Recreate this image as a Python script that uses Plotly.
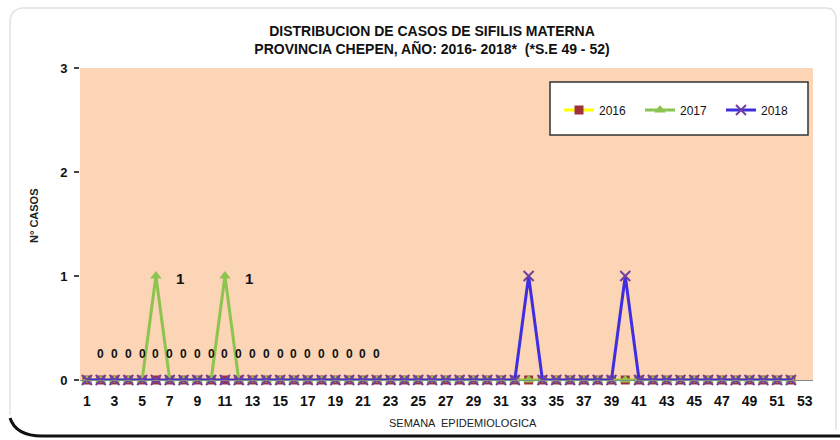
import plotly.graph_objects as go

# ---------------- data ----------------
weeks = list(range(1, 53))
casos_2016 = [0, 0, 0, 0, 0, 0, 0, 0, 0, 0, 0, 0, 0, 0, 0, 0, 0, 0, 0, 0, 0, 0, 0, 0, 0, 0,
              0, 0, 0, 0, 0, 0, 0, 0, 0, 0, 0, 0, 0, 0, 0, 0, 0, 0, 0, 0, 0, 0, 0, 0, 0, 0]
casos_2017 = [0, 0, 0, 0, 0, 1, 0, 0, 0, 0, 1, 0, 0, 0, 0, 0, 0, 0, 0, 0, 0, 0, 0, 0, 0, 0,
              0, 0, 0, 0, 0, 0, 0, 0, 0, 0, 0, 0, 0, 0, 0, 0, 0, 0, 0, 0, 0, 0, 0, 0, 0, 0]
casos_2018 = [0, 0, 0, 0, 0, 0, 0, 0, 0, 0, 0, 0, 0, 0, 0, 0, 0, 0, 0, 0, 0, 0, 0, 0, 0, 0,
              0, 0, 0, 0, 0, 0, 1, 0, 0, 0, 0, 0, 0, 1, 0, 0, 0, 0, 0, 0, 0, 0, 0, 0, 0, 0]
series_names = ["2016", "2017", "2018"]
label_weeks_2016 = [2, 3, 4, 5, 6, 7, 8, 9, 10, 11, 12, 13, 14, 15, 16, 17, 18, 19, 20, 21, 22]
x_tick_vals = list(range(1, 54, 2))
y_tick_vals = [0, 1, 2, 3]

title_text = ("DISTRIBUCION DE CASOS DE SIFILIS MATERNA<br>"
              "PROVINCIA CHEPEN, AÑO: 2016- 2018*  (*S.E 49 - 52)")

# ---------------- layout helpers (pixel -> paper) ----------------
L, R, T, B = 80, 813, 68, 380
def px(x):
    return (x - L) / (R - L)
def py(y):
    return (B - y) / (B - T)

FONT = "Liberation Sans Narrow, Liberation Sans, Arial, sans-serif"

fig = go.Figure()

fig.add_trace(go.Scatter(
    x=weeks, y=casos_2016, name=series_names[0], mode="lines+markers",
    line=dict(color="#FFFF00", width=3),
    marker=dict(symbol="square", size=9, color="#A0303A"),
    cliponaxis=False))
fig.add_trace(go.Scatter(
    x=weeks, y=casos_2017, name=series_names[1], mode="lines+markers",
    line=dict(color="#8CC44F", width=3),
    marker=dict(symbol="triangle-up", size=10, color="#8CC44F"),
    cliponaxis=False))
fig.add_trace(go.Scatter(
    x=weeks, y=casos_2018, name=series_names[2], mode="lines+markers",
    line=dict(color="#3F2FE0", width=3),
    marker=dict(symbol="x-thin", size=10, color="#5A4AB0", line=dict(width=2, color="#7040A0")),
    cliponaxis=False))

annotations = []
# "0" labels above 2016 points
for w in label_weeks_2016:
    annotations.append(dict(x=w, y=casos_2016[w - 1], text=str(casos_2016[w - 1]),
                            showarrow=False, yshift=26,
                            font=dict(family=FONT, size=12, color="#111111", weight="bold")))
# "1" labels at 2017 peaks
for w, v in zip(weeks, casos_2017):
    if v > 0:
        annotations.append(dict(x=w, y=v, text=str(v), showarrow=False, xshift=24, yshift=-2,
                                font=dict(family=FONT, size=15, color="#111111", weight="bold")))
# axis titles
annotations.append(dict(xref="paper", yref="paper", x=px(463), y=py(423), xanchor="center", yanchor="middle",
                        text="SEMANA  EPIDEMIOLOGICA",
                        showarrow=False, font=dict(family=FONT, size=11, color="#222222")))
annotations.append(dict(xref="paper", yref="paper", x=px(34), y=py(215), xanchor="center", yanchor="middle",
                        text="N° CASOS", textangle=-90,
                        showarrow=False, font=dict(family=FONT, size=11, color="#222222", weight="bold")))

shapes = [
    # outer light frame
    dict(type="path", xref="paper", yref="paper",
         path=f"M {px(22)},{py(8)} L {px(826)},{py(8)} Q {px(836)},{py(8)} {px(836)},{py(20)} L {px(836)},{py(430)} "
              f"M {px(22)},{py(8)} Q {px(10)},{py(10)} {px(10)},{py(22)} L {px(10)},{py(415)}",
         line=dict(color="#E2E2E2", width=1.5)),
    # bottom heavy border
    dict(type="path", xref="paper", yref="paper",
         path=f"M {px(10)},{py(418)} Q {px(16)},{py(436)} {px(42)},{py(436)} L {px(842)},{py(436)}",
         line=dict(color="#111111", width=3)),
    # legend box
    dict(type="rect", xref="paper", yref="paper", layer="above",
         x0=px(550), x1=px(808), y0=py(82), y1=py(135),
         fillcolor="white", line=dict(color="#333333", width=1.5)),
]

fig.update_layout(
    width=840, height=440,
    margin=dict(l=L, r=840 - R, t=T, b=440 - B, autoexpand=False),
    paper_bgcolor="white",
    plot_bgcolor="#FBD5B5",
    font=dict(family=FONT, color="#111111"),
    title=dict(text=title_text, x=432 / 840, xanchor="center", xref="container",
               y=1 - 36 / 440, yanchor="middle", yref="container",
               font=dict(family=FONT, size=14, color="#111111", weight="bold")),
    showlegend=True,
    legend=dict(orientation="h", x=px(559), y=py(110), xanchor="left", yanchor="middle",
                bgcolor="rgba(0,0,0,0)", entrywidth=36, entrywidthmode="pixels",
                font=dict(family=FONT, size=12, color="#111111"), itemwidth=30),
    xaxis=dict(range=[0.5, 53.6], tickmode="array", tickvals=x_tick_vals,
               showgrid=False, zeroline=False, showline=True, linecolor="#888888", linewidth=1,
               ticks="", ticklabelstandoff=8,
               tickfont=dict(family=FONT, size=14, color="#111111", weight="bold")),
    yaxis=dict(range=[0, 3], tickmode="array", tickvals=y_tick_vals,
               showgrid=False, zeroline=False, showline=False,
               ticks="outside", ticklen=5, tickcolor="#444444", tickwidth=1.5,
               ticklabelstandoff=4,
               tickfont=dict(family=FONT, size=13, color="#111111", weight="bold")),
    annotations=annotations,
    shapes=shapes,
)

fig.write_html("out.html", config={"displayModeBar": False},
               post_script="document.body.style.margin='0';document.body.style.overflow='hidden';")
